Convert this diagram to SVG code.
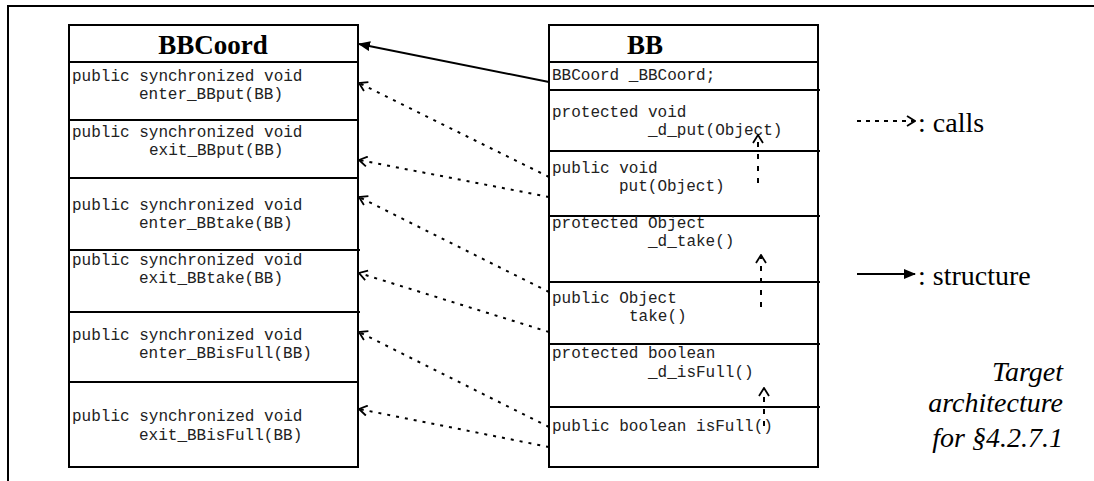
<svg xmlns="http://www.w3.org/2000/svg" width="1094" height="481" viewBox="0 0 1094 481">
  <style>
    .frame { stroke: #000; stroke-width: 2; fill: none; }
    .box { stroke: #000; stroke-width: 2; fill: #fff; }
    .div { stroke: #000; stroke-width: 2; }
    .title { font-weight: bold; font-size: 27px; text-anchor: middle; fill: #000; }
    .code { font-size: 16px; fill: #222; }
    .legend { font-size: 28px; fill: #000; }
    .note { font-style: italic; font-size: 28px; text-anchor: end; fill: #000; }
    .calls { stroke: #000; stroke-width: 2; stroke-dasharray: 3 6; fill: none; marker-end: url(#open); }
    .vcalls { stroke: #000; stroke-width: 2; stroke-dasharray: 5 7; fill: none; marker-end: url(#open); }
    .struct { stroke: #000; stroke-width: 2; fill: none; marker-end: url(#solid); }
  </style>
  <defs>
    <marker id="open" markerUnits="userSpaceOnUse" viewBox="0 0 10 12" refX="9" refY="6" markerWidth="10" markerHeight="12" orient="auto">
      <path d="M1,1 L9,6 L1,11" fill="none" stroke="#000" stroke-width="1.8" stroke-dasharray="none"/>
    </marker>
    <marker id="solid" markerUnits="userSpaceOnUse" viewBox="0 0 12 10" refX="11" refY="5" markerWidth="12" markerHeight="10" orient="auto">
      <path d="M0,0 L12,5 L0,10 Z" fill="#000" stroke="none"/>
    </marker>
  </defs>

  <rect width="1094" height="481" fill="#fff"/>

  <!-- outer frame: top and left edges only -->
  <path class="frame" d="M8,481 L8,6 L1094,6"/>

  <!-- coordinator class -->
  <g id="BBCoord">
    <rect class="box" x="69" y="25" width="289" height="442"/>
    <line class="div" x1="69" y1="62" x2="358" y2="62"/>
    <line class="div" x1="69" y1="120" x2="358" y2="120"/>
    <line class="div" x1="69" y1="178" x2="358" y2="178"/>
    <line class="div" x1="69" y1="250" x2="360" y2="250"/>
    <line class="div" x1="69" y1="312" x2="360" y2="312"/>
    <line class="div" x1="69" y1="382" x2="358" y2="382"/>
    <text class="title" font-family="'Liberation Serif', 'Times New Roman', Times, 'DejaVu Serif', serif" x="213" y="54">BBCoord</text>
    <g font-family="'Liberation Mono', 'Courier New', Courier, 'DejaVu Sans Mono', monospace">
      <text class="code" x="72" y="81">public synchronized void</text>
      <text class="code" x="139" y="99">enter_BBput(BB)</text>
      <text class="code" x="72" y="137">public synchronized void</text>
      <text class="code" x="149" y="155">exit_BBput(BB)</text>
      <text class="code" x="72" y="210">public synchronized void</text>
      <text class="code" x="139" y="228">enter_BBtake(BB)</text>
      <text class="code" x="72" y="265">public synchronized void</text>
      <text class="code" x="139" y="283">exit_BBtake(BB)</text>
      <text class="code" x="72" y="340">public synchronized void</text>
      <text class="code" x="139" y="358">enter_BBisFull(BB)</text>
      <text class="code" x="72" y="421">public synchronized void</text>
      <text class="code" x="139" y="440">exit_BBisFull(BB)</text>
    </g>
  </g>

  <!-- bounded buffer class -->
  <g id="BB">
    <rect class="box" x="549" y="25" width="269" height="442"/>
    <line class="div" x1="549" y1="62" x2="818" y2="62"/>
    <line class="div" x1="549" y1="90" x2="820" y2="90"/>
    <line class="div" x1="549" y1="151" x2="820" y2="151"/>
    <line class="div" x1="549" y1="216" x2="820" y2="216"/>
    <line class="div" x1="549" y1="282" x2="820" y2="282"/>
    <line class="div" x1="549" y1="344" x2="820" y2="344"/>
    <line class="div" x1="549" y1="407" x2="820" y2="407"/>
    <text class="title" font-family="'Liberation Serif', 'Times New Roman', Times, 'DejaVu Serif', serif" x="645" y="54">BB</text>
    <g font-family="'Liberation Mono', 'Courier New', Courier, 'DejaVu Sans Mono', monospace">
      <text class="code" x="552" y="80">BBCoord _BBCoord;</text>
      <text class="code" x="552" y="117">protected void</text>
      <text class="code" x="648" y="135">_d_put(Object)</text>
      <text class="code" x="552" y="173">public void</text>
      <text class="code" x="619" y="191">put(Object)</text>
      <text class="code" x="552" y="228">protected Object</text>
      <text class="code" x="648" y="246">_d_take()</text>
      <text class="code" x="552" y="303">public Object</text>
      <text class="code" x="629" y="321">take()</text>
      <text class="code" x="552" y="358">protected boolean</text>
      <text class="code" x="648" y="377">_d_isFull()</text>
      <text class="code" x="552" y="431">public boolean isFull()</text>
    </g>
  </g>

  <!-- connectors -->
  <g id="connectors">
    <line class="struct" x1="549" y1="82" x2="359" y2="44"/>
    <line class="calls" x1="549" y1="177" x2="359" y2="83"/>
    <line class="calls" x1="549" y1="197" x2="359" y2="160"/>
    <line class="calls" x1="549" y1="292" x2="359" y2="197"/>
    <line class="calls" x1="549" y1="332" x2="359" y2="273"/>
    <line class="calls" x1="549" y1="427" x2="359" y2="332"/>
    <line class="calls" x1="549" y1="447" x2="359" y2="409"/>
    <line class="vcalls" x1="758" y1="183" x2="758" y2="135"/>
    <line class="vcalls" x1="761" y1="307" x2="761" y2="255"/>
    <line class="vcalls" x1="764" y1="426" x2="764" y2="388"/>
  </g>

  <!-- legend -->
  <g id="legend" font-family="'Liberation Serif', 'Times New Roman', Times, 'DejaVu Serif', serif">
    <line class="calls" x1="857" y1="121" x2="915" y2="121" style="stroke-dasharray:4 5"/>
    <text class="legend" x="918" y="132">: calls</text>
    <line class="struct" x1="857" y1="274" x2="915" y2="274"/>
    <text class="legend" x="918" y="285">: structure</text>
  </g>

  <g id="caption" font-family="'Liberation Serif', 'Times New Roman', Times, 'DejaVu Serif', serif">
    <text class="note" x="1063" y="381">Target</text>
    <text class="note" x="1063" y="412">architecture</text>
    <text class="note" x="1063" y="447">for §4.2.7.1</text>
  </g>
</svg>
